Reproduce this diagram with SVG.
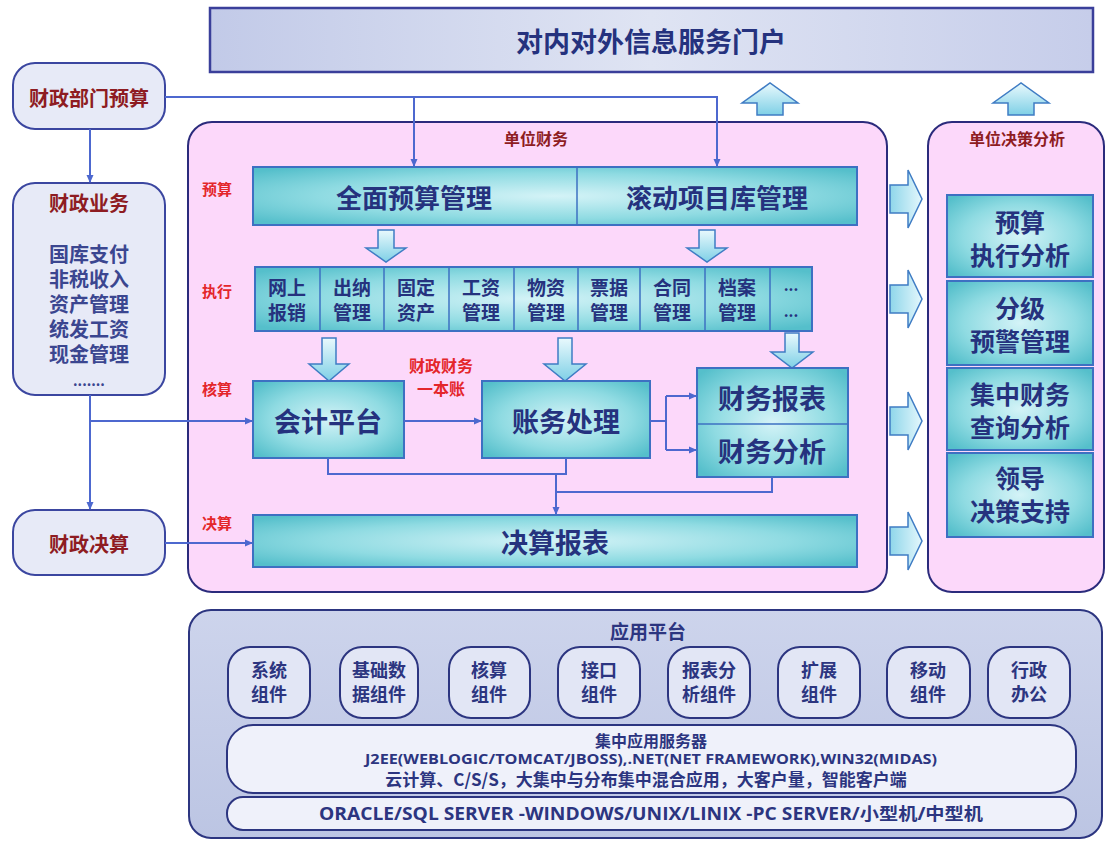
<svg xmlns="http://www.w3.org/2000/svg" width="1110" height="841" viewBox="0 0 1110 841">
<defs>
<radialGradient id="teal" cx="50%" cy="50%" r="65%">
<stop offset="0" stop-color="#d4f3f7"/>
<stop offset="0.6" stop-color="#8fdbe2"/>
<stop offset="1" stop-color="#55bfcb"/>
</radialGradient>
<linearGradient id="portal" x1="0" y1="0" x2="1" y2="0">
<stop offset="0" stop-color="#c2cae8"/>
<stop offset="0.5" stop-color="#dfe4f3"/>
<stop offset="1" stop-color="#c6cdea"/>
</linearGradient>
<linearGradient id="arrowG" x1="0" y1="0" x2="0" y2="1">
<stop offset="0" stop-color="#e9f9fd"/>
<stop offset="1" stop-color="#7fd0e6"/>
</linearGradient>
<linearGradient id="arrowH" x1="0" y1="0" x2="1" y2="0">
<stop offset="0" stop-color="#8fd6ea"/>
<stop offset="1" stop-color="#e4f7fc"/>
</linearGradient>
<linearGradient id="plat" x1="0" y1="0" x2="0" y2="1">
<stop offset="0" stop-color="#cdd4ec"/>
<stop offset="1" stop-color="#bcc5e3"/>
</linearGradient>
<marker id="ah" markerWidth="8" markerHeight="8" refX="7" refY="4" orient="auto" markerUnits="userSpaceOnUse">
<path d="M0,0.5 L8,4 L0,7.5 Z" fill="#4d68cf"/>
</marker>
<style>
text{font-family:"Noto Sans CJK SC","Liberation Sans",sans-serif;font-weight:700;text-anchor:middle;dominant-baseline:central}
.tb{fill:url(#teal);stroke:#3d70c2;stroke-width:2}
.mt{fill:#25327e;font-size:26px}
.rt{fill:#25327e;font-size:25px}
.et{fill:#25327e;font-size:19px}
.red{fill:#e4262b;font-size:15px}
.dred{fill:#8e1c22}
.lbox{fill:#e7eaf7;stroke:#3b46a0;stroke-width:2}
.pink{fill:#fcd8fa;stroke:#2b2b7c;stroke-width:2}
.arr{fill:url(#arrowG);stroke:#3f7cc4;stroke-width:1.5}
.arrh{fill:url(#arrowH);stroke:#3f7cc4;stroke-width:1.5}
.pill{fill:#e2e6f5;stroke:#2c3580;stroke-width:2}
.pt{fill:#2c3580;font-size:18px}
.conn{fill:none;stroke:#4d68cf;stroke-width:2}
</style>
</defs>
<rect width="1110" height="841" fill="#ffffff"/>

<g id="portal">
<rect x="210" y="8" width="883" height="64" fill="url(#portal)" stroke="#3a3f9a" stroke-width="2.5"/>
<text x="651" y="40" class="mt" style="font-size:27px">对内对外信息服务门户</text>
</g>

<g id="up-arrows">
<path class="arr" d="M757,115 V103 H742 L770,83 L798,103 H783 V115 Z"/>
<path class="arr" d="M1008,115 V103 H993 L1021,83 L1049,103 H1034 V115 Z"/>
</g>

<g id="dept-budget">
<rect class="lbox" x="13" y="63" width="152" height="66" rx="22"/>
<text x="89" y="97" class="dred" style="font-size:20px">财政部门预算</text>
</g>

<g id="fiscal-business">
<rect class="lbox" x="13" y="183" width="152" height="212" rx="22"/>
<text x="89" y="202" class="dred" style="font-size:20px">财政业务</text>
<text x="89" y="253" fill="#3b4690" style="font-size:20px">国库支付</text>
<text x="89" y="278" fill="#3b4690" style="font-size:20px">非税收入</text>
<text x="89" y="303" fill="#3b4690" style="font-size:20px">资产管理</text>
<text x="89" y="328" fill="#3b4690" style="font-size:20px">统发工资</text>
<text x="89" y="353" fill="#3b4690" style="font-size:20px">现金管理</text>
<text x="89" y="380" fill="#3b4690" style="font-size:14px">.......</text>
</g>

<g id="fiscal-final">
<rect class="lbox" x="13" y="510" width="152" height="65" rx="22"/>
<text x="89" y="543" class="dred" style="font-size:20px">财政决算</text>
</g>

<g id="unit-finance">
<rect class="pink" x="188" y="122" width="699" height="470" rx="24"/>
<text x="536" y="138" class="dred" style="font-size:16px">单位财务</text>
<text x="217" y="188" class="red">预算</text>
<text x="217" y="290" class="red">执行</text>
<text x="217" y="388" class="red">核算</text>
<text x="217" y="522" class="red">决算</text>
</g>

<g id="budget-row">
<rect class="tb" x="253" y="167" width="604" height="58"/>
<line x1="577" y1="167" x2="577" y2="225" stroke="#3d70c2" stroke-width="1.5"/>
<text x="414" y="196" class="mt">全面预算管理</text>
<text x="717" y="196" class="mt">滚动项目库管理</text>
</g>

<g id="exec-row">
<rect class="tb" x="255" y="267" width="557" height="64"/>
<g stroke="#3d70c2" stroke-width="1.5">
<line x1="320" y1="267" x2="320" y2="331"/>
<line x1="384" y1="267" x2="384" y2="331"/>
<line x1="449" y1="267" x2="449" y2="331"/>
<line x1="514" y1="267" x2="514" y2="331"/>
<line x1="578" y1="267" x2="578" y2="331"/>
<line x1="640" y1="267" x2="640" y2="331"/>
<line x1="705" y1="267" x2="705" y2="331"/>
<line x1="770" y1="267" x2="770" y2="331"/>
</g>
<text x="287" y="286" class="et">网上</text><text x="287" y="311" class="et">报销</text>
<text x="352" y="286" class="et">出纳</text><text x="352" y="311" class="et">管理</text>
<text x="416" y="286" class="et">固定</text><text x="416" y="311" class="et">资产</text>
<text x="481" y="286" class="et">工资</text><text x="481" y="311" class="et">管理</text>
<text x="546" y="286" class="et">物资</text><text x="546" y="311" class="et">管理</text>
<text x="609" y="286" class="et">票据</text><text x="609" y="311" class="et">管理</text>
<text x="672" y="286" class="et">合同</text><text x="672" y="311" class="et">管理</text>
<text x="737" y="286" class="et">档案</text><text x="737" y="311" class="et">管理</text>
<text x="791" y="284" class="et" style="font-size:15px">...</text><text x="791" y="310" class="et" style="font-size:15px">...</text>
</g>

<g id="down-arrows">
<path class="arr" d="M378,230 H394 V248 H406 L386,262 L366,248 H378 Z"/>
<path class="arr" d="M699,230 H715 V248 H727 L707,262 L687,248 H699 Z"/>
<path class="arr" d="M322,338 H336 V364 H349 L329,381 L309,364 H322 Z"/>
<path class="arr" d="M558,338 H572 V364 H586 L565,381 L544,364 H558 Z"/>
<path class="arr" d="M785,333 H799 V352 H813 L792,368 L771,352 H785 Z"/>
</g>

<g id="accounting-platform">
<rect class="tb" x="253" y="381" width="151" height="77"/>
<text x="328" y="420" class="mt" style="font-size:27px">会计平台</text>
</g>

<g id="one-ledger">
<text x="441" y="365" class="red" style="font-size:16px">财政财务</text>
<text x="441" y="388" class="red" style="font-size:16px">一本账</text>
</g>

<g id="ledger-processing">
<rect class="tb" x="482" y="381" width="168" height="77"/>
<text x="566" y="420" class="mt" style="font-size:27px">账务处理</text>
</g>

<g id="fin-report">
<rect class="tb" x="697" y="368" width="151" height="109"/>
<line x1="697" y1="424" x2="848" y2="424" stroke="#3d70c2" stroke-width="1.5"/>
<text x="772" y="397" class="mt" style="font-size:27px">财务报表</text>
<text x="772" y="450" class="mt" style="font-size:27px">财务分析</text>
</g>

<g id="final-report">
<rect class="tb" x="253" y="515" width="604" height="52"/>
<text x="555" y="541" class="mt" style="font-size:27px">决算报表</text>
</g>

<g id="right-arrows">
<path class="arrh" d="M890,185 H908 V170 L922,199 L908,228 V213 H890 Z"/>
<path class="arrh" d="M890,285 H908 V270 L922,299 L908,328 V313 H890 Z"/>
<path class="arrh" d="M890,407 H908 V392 L922,421 L908,450 V435 H890 Z"/>
<path class="arrh" d="M890,527 H908 V512 L922,541 L908,570 V555 H890 Z"/>
</g>

<g id="decision-analysis">
<rect class="pink" x="928" y="122" width="176" height="470" rx="24"/>
<text x="1017" y="138" class="dred" style="font-size:16px">单位决策分析</text>
<rect class="tb" x="947" y="195" width="146" height="82"/>
<text x="1020" y="221" class="rt">预算</text>
<text x="1020" y="254" class="rt">执行分析</text>
<rect class="tb" x="947" y="281" width="146" height="84"/>
<text x="1020" y="307" class="rt">分级</text>
<text x="1020" y="340" class="rt">预警管理</text>
<rect class="tb" x="947" y="368" width="146" height="82"/>
<text x="1020" y="393" class="rt">集中财务</text>
<text x="1020" y="426" class="rt">查询分析</text>
<rect class="tb" x="947" y="453" width="146" height="84"/>
<text x="1020" y="477" class="rt">领导</text>
<text x="1020" y="510" class="rt">决策支持</text>
</g>

<g id="app-platform">
<rect x="189" y="610" width="913" height="228" rx="22" fill="url(#plat)" stroke="#2c3580" stroke-width="2"/>
<text x="648" y="630" class="pt" style="font-size:19px">应用平台</text>
<rect class="pill" x="228" y="647" width="82" height="71" rx="22"/>
<text x="269" y="669" class="pt">系统</text><text x="269" y="693" class="pt">组件</text>
<rect class="pill" x="340" y="647" width="78" height="71" rx="22"/>
<text x="379" y="669" class="pt">基础数</text><text x="379" y="693" class="pt">据组件</text>
<rect class="pill" x="449" y="647" width="81" height="71" rx="22"/>
<text x="489" y="669" class="pt">核算</text><text x="489" y="693" class="pt">组件</text>
<rect class="pill" x="558" y="647" width="82" height="71" rx="22"/>
<text x="599" y="669" class="pt">接口</text><text x="599" y="693" class="pt">组件</text>
<rect class="pill" x="668" y="647" width="82" height="71" rx="22"/>
<text x="709" y="669" class="pt">报表分</text><text x="709" y="693" class="pt">析组件</text>
<rect class="pill" x="778" y="647" width="82" height="71" rx="22"/>
<text x="819" y="669" class="pt">扩展</text><text x="819" y="693" class="pt">组件</text>
<rect class="pill" x="887" y="647" width="83" height="71" rx="22"/>
<text x="928" y="669" class="pt">移动</text><text x="928" y="693" class="pt">组件</text>
<rect class="pill" x="988" y="647" width="82" height="71" rx="22"/>
<text x="1029" y="669" class="pt">行政</text><text x="1029" y="693" class="pt">办公</text>
<rect x="227" y="725" width="849" height="68" rx="26" fill="#eff1fa" stroke="#2c3580" stroke-width="2"/>
<text x="651" y="740" class="pt" style="font-size:16px">集中应用服务器</text>
<text x="651" y="758" class="pt" style="font-size:14px;font-family:'Open Sans','Liberation Sans',sans-serif" textLength="572" lengthAdjust="spacingAndGlyphs">J2EE(WEBLOGIC/TOMCAT/JBOSS),.NET(NET FRAMEWORK),WIN32(MIDAS)</text>
<text x="646" y="778" class="pt" style="font-size:17px">云计算、C/S/S，大集中与分布集中混合应用，大客户量，智能客户端</text>
<rect x="227" y="797" width="849" height="33" rx="16" fill="#eff1fa" stroke="#2c3580" stroke-width="2"/>
<text x="651" y="813" class="pt" style="font-size:17px;font-family:'Open Sans','Noto Sans CJK SC',sans-serif" textLength="664" lengthAdjust="spacingAndGlyphs">ORACLE/SQL SERVER -WINDOWS/UNIX/LINIX -PC SERVER/小型机/中型机</text>
</g>

<g id="connectors">
<path class="conn" d="M165,97 H717 V166" marker-end="url(#ah)"/>
<path class="conn" d="M414,97 V166" marker-end="url(#ah)"/>
<path class="conn" d="M90,129 V182" marker-end="url(#ah)"/>
<path class="conn" d="M90,395 V509" marker-end="url(#ah)"/>
<path class="conn" d="M90,421 H252" marker-end="url(#ah)"/>
<path class="conn" d="M165,543 H252" marker-end="url(#ah)"/>
<path class="conn" d="M404,421 H481" marker-end="url(#ah)"/>
<path class="conn" d="M650,421 H666 M666,396 V450"/>
<path class="conn" d="M666,396 H696" marker-end="url(#ah)"/>
<path class="conn" d="M666,450 H696" marker-end="url(#ah)"/>
<path class="conn" d="M328,458 V474 H566 V458"/>
<path class="conn" d="M772,477 V492 H556"/>
<path class="conn" d="M556,474 V514" marker-end="url(#ah)"/>
</g>
</svg>
